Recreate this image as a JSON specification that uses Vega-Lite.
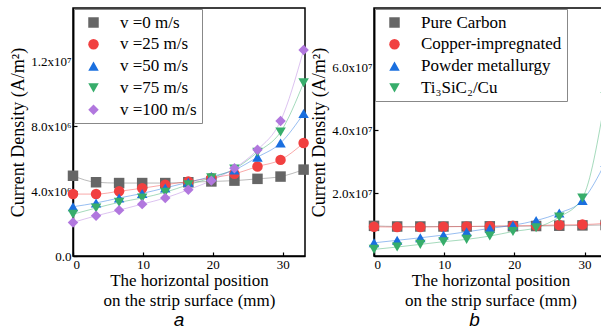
{
  "$schema": "https://vega.github.io/schema/vega-lite/v6.json",
  "padding": {"left": 8, "top": 7, "right": 0, "bottom": 0},
  "background": "white",
  "spacing": 69,
  "bounds": "flush",
  "config": {
    "font": "Liberation Serif, Times New Roman, DejaVu Serif, serif",
    "view": {"stroke": "black", "strokeWidth": 1.5},
    "axis": {
      "grid": false,
      "domainColor": "black",
      "domainWidth": 1.5,
      "tickColor": "black",
      "tickSize": -4,
      "tickWidth": 1.2,
      "labelFont": "Liberation Serif, Times New Roman, DejaVu Serif, serif",
      "labelFontSize": 13,
      "labelColor": "black",
      "titleFont": "Liberation Serif, Times New Roman, DejaVu Serif, serif",
      "titleFontSize": 17,
      "titleFontWeight": "normal",
      "titleColor": "black"
    },
    "legend": {
      "orient": "top-left",
      "offset": 1,
      "strokeColor": "#888888",
      "fillColor": "white",
      "padding": 5,
      "symbolOffset": 6,
      "labelOffset": 18,
      "labelFont": "Liberation Serif, Times New Roman, DejaVu Serif, serif",
      "labelFontSize": 17,
      "labelColor": "black",
      "rowPadding": 3.8,
      "symbolSize": 110,
      "symbolStrokeWidth": 0,
      "symbolOpacity": 1
    },
    "title": {
      "font": "Liberation Sans, Arial, DejaVu Sans, sans-serif",
      "fontSize": 19,
      "fontStyle": "italic",
      "fontWeight": "normal",
      "color": "black",
      "orient": "bottom",
      "anchor": "middle",
      "offset": 3
    }
  },
  "datasets": {
    "a": [
      {"s": "v =0 m/s", "x": 0, "y": 4950000},
      {"s": "v =0 m/s", "x": 3.3, "y": 4550000},
      {"s": "v =0 m/s", "x": 6.6, "y": 4500000},
      {"s": "v =0 m/s", "x": 9.9, "y": 4500000},
      {"s": "v =0 m/s", "x": 13.2, "y": 4500000},
      {"s": "v =0 m/s", "x": 16.5, "y": 4550000},
      {"s": "v =0 m/s", "x": 19.8, "y": 4600000},
      {"s": "v =0 m/s", "x": 23.1, "y": 4650000},
      {"s": "v =0 m/s", "x": 26.4, "y": 4760000},
      {"s": "v =0 m/s", "x": 29.7, "y": 4900000},
      {"s": "v =0 m/s", "x": 33, "y": 5330000},
      {"s": "v =25 m/s", "x": 0, "y": 3820000},
      {"s": "v =25 m/s", "x": 3.3, "y": 3820000},
      {"s": "v =25 m/s", "x": 6.6, "y": 3990000},
      {"s": "v =25 m/s", "x": 9.9, "y": 4180000},
      {"s": "v =25 m/s", "x": 13.2, "y": 4400000},
      {"s": "v =25 m/s", "x": 16.5, "y": 4590000},
      {"s": "v =25 m/s", "x": 19.8, "y": 4820000},
      {"s": "v =25 m/s", "x": 23.1, "y": 5070000},
      {"s": "v =25 m/s", "x": 26.4, "y": 5520000},
      {"s": "v =25 m/s", "x": 29.7, "y": 5930000},
      {"s": "v =25 m/s", "x": 33, "y": 6970000},
      {"s": "v =50 m/s", "x": 0, "y": 3040000},
      {"s": "v =50 m/s", "x": 3.3, "y": 3270000},
      {"s": "v =50 m/s", "x": 6.6, "y": 3580000},
      {"s": "v =50 m/s", "x": 9.9, "y": 3860000},
      {"s": "v =50 m/s", "x": 13.2, "y": 4200000},
      {"s": "v =50 m/s", "x": 16.5, "y": 4550000},
      {"s": "v =50 m/s", "x": 19.8, "y": 4900000},
      {"s": "v =50 m/s", "x": 23.1, "y": 5310000},
      {"s": "v =50 m/s", "x": 26.4, "y": 6100000},
      {"s": "v =50 m/s", "x": 29.7, "y": 6970000},
      {"s": "v =50 m/s", "x": 33, "y": 8790000},
      {"s": "v =75 m/s", "x": 0, "y": 2580000},
      {"s": "v =75 m/s", "x": 3.3, "y": 2960000},
      {"s": "v =75 m/s", "x": 6.6, "y": 3310000},
      {"s": "v =75 m/s", "x": 9.9, "y": 3580000},
      {"s": "v =75 m/s", "x": 13.2, "y": 3930000},
      {"s": "v =75 m/s", "x": 16.5, "y": 4400000},
      {"s": "v =75 m/s", "x": 19.8, "y": 4820000},
      {"s": "v =75 m/s", "x": 23.1, "y": 5370000},
      {"s": "v =75 m/s", "x": 26.4, "y": 6400000},
      {"s": "v =75 m/s", "x": 29.7, "y": 7650000},
      {"s": "v =75 m/s", "x": 33, "y": 10690000},
      {"s": "v =100 m/s", "x": 0, "y": 2070000},
      {"s": "v =100 m/s", "x": 3.3, "y": 2480000},
      {"s": "v =100 m/s", "x": 6.6, "y": 2830000},
      {"s": "v =100 m/s", "x": 9.9, "y": 3200000},
      {"s": "v =100 m/s", "x": 13.2, "y": 3580000},
      {"s": "v =100 m/s", "x": 16.5, "y": 4090000},
      {"s": "v =100 m/s", "x": 19.8, "y": 4650000},
      {"s": "v =100 m/s", "x": 23.1, "y": 5410000},
      {"s": "v =100 m/s", "x": 26.4, "y": 6550000},
      {"s": "v =100 m/s", "x": 29.7, "y": 8330000},
      {"s": "v =100 m/s", "x": 33, "y": 12710000}
    ],
    "b": [
      {"s": "Pure Carbon", "x": 0, "y": 9600000},
      {"s": "Pure Carbon", "x": 3.3, "y": 9400000},
      {"s": "Pure Carbon", "x": 6.6, "y": 9400000},
      {"s": "Pure Carbon", "x": 9.9, "y": 9400000},
      {"s": "Pure Carbon", "x": 13.2, "y": 9400000},
      {"s": "Pure Carbon", "x": 16.5, "y": 9450000},
      {"s": "Pure Carbon", "x": 19.8, "y": 9500000},
      {"s": "Pure Carbon", "x": 23.1, "y": 9550000},
      {"s": "Pure Carbon", "x": 26.4, "y": 9650000},
      {"s": "Pure Carbon", "x": 29.7, "y": 9750000},
      {"s": "Pure Carbon", "x": 33, "y": 9900000},
      {"s": "Copper-impregnated", "x": 0, "y": 9300000},
      {"s": "Copper-impregnated", "x": 3.3, "y": 9200000},
      {"s": "Copper-impregnated", "x": 6.6, "y": 9200000},
      {"s": "Copper-impregnated", "x": 9.9, "y": 9300000},
      {"s": "Copper-impregnated", "x": 13.2, "y": 9400000},
      {"s": "Copper-impregnated", "x": 16.5, "y": 9500000},
      {"s": "Copper-impregnated", "x": 19.8, "y": 9600000},
      {"s": "Copper-impregnated", "x": 23.1, "y": 9700000},
      {"s": "Copper-impregnated", "x": 26.4, "y": 9900000},
      {"s": "Copper-impregnated", "x": 29.7, "y": 10000000},
      {"s": "Copper-impregnated", "x": 33, "y": 10400000},
      {"s": "Powder metallurgy", "x": 0, "y": 4200000},
      {"s": "Powder metallurgy", "x": 3.3, "y": 5000000},
      {"s": "Powder metallurgy", "x": 6.6, "y": 5800000},
      {"s": "Powder metallurgy", "x": 9.9, "y": 6670000},
      {"s": "Powder metallurgy", "x": 13.2, "y": 7700000},
      {"s": "Powder metallurgy", "x": 16.5, "y": 8780000},
      {"s": "Powder metallurgy", "x": 19.8, "y": 9800000},
      {"s": "Powder metallurgy", "x": 23.1, "y": 11300000},
      {"s": "Powder metallurgy", "x": 26.4, "y": 13700000},
      {"s": "Powder metallurgy", "x": 29.7, "y": 17700000},
      {"s": "Powder metallurgy", "x": 33, "y": 29900000},
      {"s": "Ti₃SiC₂/Cu", "x": 0, "y": 2100000},
      {"s": "Ti₃SiC₂/Cu", "x": 3.3, "y": 2860000},
      {"s": "Ti₃SiC₂/Cu", "x": 6.6, "y": 3700000},
      {"s": "Ti₃SiC₂/Cu", "x": 9.9, "y": 4550000},
      {"s": "Ti₃SiC₂/Cu", "x": 13.2, "y": 5300000},
      {"s": "Ti₃SiC₂/Cu", "x": 16.5, "y": 6350000},
      {"s": "Ti₃SiC₂/Cu", "x": 19.8, "y": 7800000},
      {"s": "Ti₃SiC₂/Cu", "x": 23.1, "y": 9000000},
      {"s": "Ti₃SiC₂/Cu", "x": 26.4, "y": 12400000},
      {"s": "Ti₃SiC₂/Cu", "x": 29.7, "y": 18500000},
      {"s": "Ti₃SiC₂/Cu", "x": 33, "y": 50800000}
    ]
  },
  "resolve": {
    "scale": {"color": "independent", "shape": "independent"},
    "legend": {"color": "independent", "shape": "independent"}
  },
  "hconcat": [
    {
      "width": 232,
      "height": 248,
      "data": {"name": "a"},
      "title": {"text": "a", "dx": -10},
      "encoding": {
        "x": {
          "field": "x", "type": "quantitative",
          "scale": {"domain": [0, 33.2], "nice": false},
          "axis": {"values": [0, 10, 20, 30], "labelPadding": 6, "title": ["The horizontal position", "on the strip surface (mm)"], "titlePadding": 1, "titleLineHeight": 20}
        },
        "y": {
          "field": "y", "type": "quantitative",
          "scale": {"domain": [0, 15300000], "nice": false},
          "axis": {
            "values": [0, 4000000, 8000000, 12000000],
            "labelExpr": "datum.value == 0 ? '0.0' : datum.value == 4000000 ? '4.0x10⁶' : datum.value == 8000000 ? '8.0x10⁶' : '1.2x10⁷'",
            "labelPadding": 6,
            "title": "Current Density (A/m²)",
            "titleFontSize": 18,
            "titlePadding": 3
          }
        },
        "color": {
          "field": "s", "type": "nominal",
          "scale": {"domain": ["v =0 m/s", "v =25 m/s", "v =50 m/s", "v =75 m/s", "v =100 m/s"], "range": ["#666666", "#f14040", "#1a6fdf", "#37ad6b", "#b177de"]},
          "legend": {"title": null}
        }
      },
      "layer": [
        {"mark": {"type": "line", "interpolate": "monotone", "strokeWidth": 1, "opacity": 0.45, "clip": true}},
        {
          "mark": {"type": "point", "filled": true, "size": 110, "opacity": 1},
          "encoding": {
            "shape": {
              "field": "s", "type": "nominal",
              "scale": {"domain": ["v =0 m/s", "v =25 m/s", "v =50 m/s", "v =75 m/s", "v =100 m/s"], "range": ["square", "circle", "triangle-up", "triangle-down", "diamond"]},
              "legend": {"title": null}
            }
          }
        }
      ]
    },
    {
      "width": 233,
      "height": 248,
      "data": {"name": "b"},
      "title": {"text": "b", "dx": -16},
      "encoding": {
        "x": {
          "field": "x", "type": "quantitative",
          "scale": {"domain": [0, 33.2], "nice": false},
          "axis": {"values": [0, 10, 20, 30], "labelPadding": 6, "title": ["The horizontal position", "on the strip surface (mm)"], "titlePadding": 1, "titleLineHeight": 20}
        },
        "y": {
          "field": "y", "type": "quantitative",
          "scale": {"domain": [0, 79000000], "nice": false},
          "axis": {
            "values": [20000000, 40000000, 60000000],
            "labelExpr": "datum.value == 20000000 ? '2.0x10⁷' : datum.value == 40000000 ? '4.0x10⁷' : '6.0x10⁷'",
            "labelPadding": 6,
            "title": "Current Density (A/m²)",
            "titleFontSize": 18,
            "titlePadding": 3
          }
        },
        "color": {
          "field": "s", "type": "nominal",
          "scale": {"domain": ["Pure Carbon", "Copper-impregnated", "Powder metallurgy", "Ti₃SiC₂/Cu"], "range": ["#666666", "#f14040", "#1a6fdf", "#37ad6b"]},
          "legend": {"title": null}
        }
      },
      "layer": [
        {"mark": {"type": "line", "interpolate": "monotone", "strokeWidth": 1, "opacity": 0.45, "clip": true}},
        {
          "mark": {"type": "point", "filled": true, "size": 110, "opacity": 1},
          "encoding": {
            "shape": {
              "field": "s", "type": "nominal",
              "scale": {"domain": ["Pure Carbon", "Copper-impregnated", "Powder metallurgy", "Ti₃SiC₂/Cu"], "range": ["square", "circle", "triangle-up", "triangle-down"]},
              "legend": {"title": null}
            }
          }
        }
      ]
    }
  ]
}
